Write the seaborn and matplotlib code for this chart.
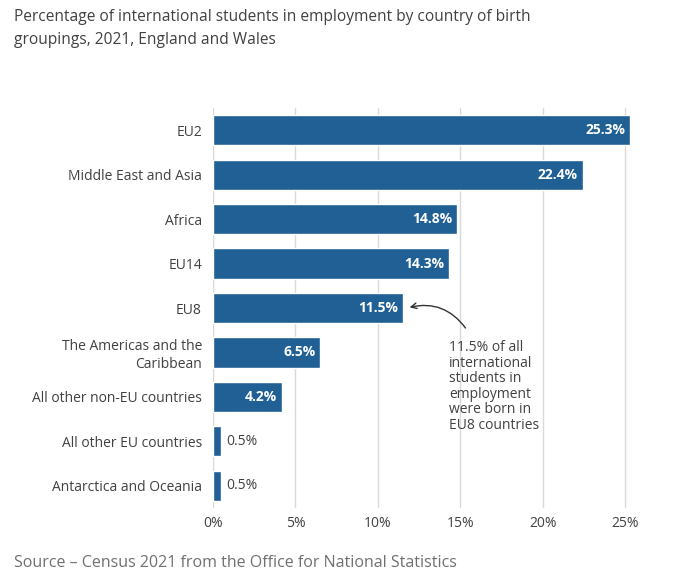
import matplotlib
matplotlib.use("Agg")
import matplotlib.pyplot as plt
import seaborn as sns
import pandas as pd

groups = ["EU2", "Middle East and Asia", "Africa", "EU14", "EU8",
          "The Americas and the\nCaribbean", "All other non-EU countries",
          "All other EU countries", "Antarctica and Oceania"]
percent = [25.3, 22.4, 14.8, 14.3, 11.5, 6.5, 4.2, 0.5, 0.5]
xticks = [0, 5, 10, 15, 20, 25]

df = pd.DataFrame({"group": groups, "percent": percent})

sns.set_style("white")
plt.rcParams["font.family"] = ["Open Sans", "DejaVu Sans"]

text_col = "#414042"
fig = plt.figure(figsize=(6.75, 5.75), dpi=100)
ax = fig.add_axes([213 / 675, 1 - 508 / 575, (642 - 213) / 675, 400 / 575])

sns.barplot(data=df, x="percent", y="group", color="#206095", width=0.68,
            saturation=1, ax=ax)

ax.set_xlim(0, 26)
ax.set_xticks(xticks)
ax.set_xticklabels([f"{t}%" for t in xticks], color=text_col, fontsize=10)
ax.tick_params(axis="y", labelsize=10, labelcolor=text_col, length=0, pad=8)
ax.tick_params(axis="x", length=0, pad=6)
ax.set_xlabel("")
ax.set_ylabel("")
for s in ax.spines.values():
    s.set_visible(False)
ax.grid(axis="x", color="#d9d9d9", linewidth=1)
ax.set_axisbelow(True)

for i, v in enumerate(percent):
    if v > 2:
        ax.text(v - 0.3, i, f"{v}%", ha="right", va="center", color="white",
                fontsize=10, fontweight="bold")
    else:
        ax.text(v + 0.3, i, f"{v}%", ha="left", va="center", color=text_col,
                fontsize=10)

# callout for EU8
ax.annotate("", xy=(11.75, 4), xytext=(15.4, 4.5),
            arrowprops=dict(arrowstyle="->", color="#333333", lw=1,
                            connectionstyle="arc3,rad=0.35"))
ax.text(14.3, 4.72, "11.5% of all\ninternational\nstudents in\nemployment\nwere born in\nEU8 countries",
        ha="left", va="top", color=text_col, fontsize=10, linespacing=1.05)

fig.text(14 / 675, 1 - 9 / 575,
         "Percentage of international students in employment by country of birth\ngroupings, 2021, England and Wales",
         ha="left", va="top", fontsize=11.2, color=text_col, linespacing=1.6)
fig.text(14 / 675, 1 - 563 / 575, "Source \u2013 Census 2021 from the Office for National Statistics",
         ha="left", va="center", fontsize=11.5, color="#707070")

fig.savefig("out.png", dpi=100)
